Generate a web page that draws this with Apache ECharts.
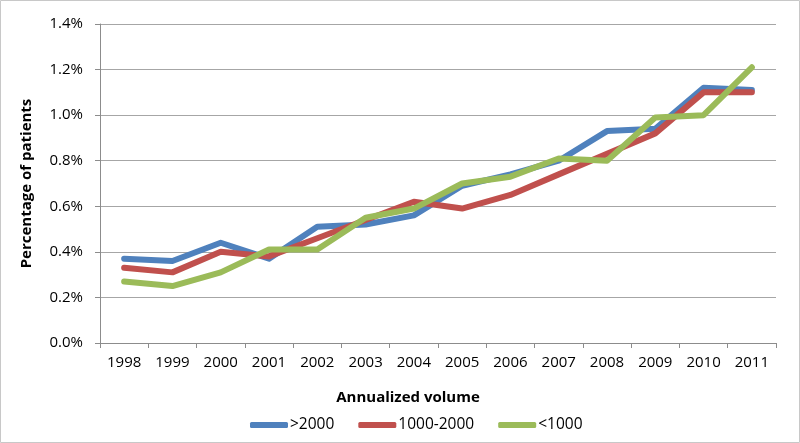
<!DOCTYPE html>
<html>
<head>
<meta charset="utf-8">
<script src="https://cdn.jsdelivr.net/npm/echarts@6/dist/echarts.min.js"></script>
<style>
html,body{margin:0;padding:0;background:#fff;}
#chart{width:800px;height:443px;}
</style>
</head>
<body>
<div id="chart"></div>
<script>
const years = ['1998','1999','2000','2001','2002','2003','2004','2005','2006','2007','2008','2009','2010','2011'];
const seriesNames = ['>2000','1000-2000','<1000'];
const over2000 = [0.37,0.36,0.44,0.37,0.51,0.52,0.56,0.69,0.74,0.80,0.93,0.94,1.12,1.11];
const mid1000to2000 = [0.33,0.31,0.40,0.38,0.46,0.54,0.62,0.59,0.65,0.74,0.83,0.92,1.10,1.10];
const under1000 = [0.27,0.25,0.31,0.41,0.41,0.55,0.59,0.70,0.73,0.81,0.80,0.99,1.00,1.21];
const yTicksMax = 1.4;
const yTickStep = 0.2;

const colors = ['#4F81BD','#C0504D','#9BBB59'];
const font = '"Open Sans", "Liberation Sans", sans-serif';

const chart = echarts.init(document.getElementById('chart'), null, {renderer:'canvas'});
const mk = (name, data, color) => ({
  name: name, type: 'line', data: data, showSymbol: false, symbol: 'none',
  lineStyle: {width: 6, color: color, cap: 'round', join: 'round'},
  itemStyle: {color: color}, animation: false
});
chart.setOption({
  animation: false,
  graphic: [{type:'rect', shape:{x:0.5,y:0.5,width:799,height:442}, style:{fill:'none', stroke:'#c8c8c8', lineWidth:1}, z:-1}],
  grid: {left: 100, right: 24, top: 24, bottom: 100},
  legend: {
    data: seriesNames, left: 245, top: 412, icon: 'roundRect', itemWidth: 38, itemHeight: 6,
    itemGap: 24, textStyle: {fontFamily: font, fontSize: 15.5, color: '#000', padding:[0,0,0,-3]}
  },
  xAxis: {
    type: 'category', data: years, boundaryGap: true,
    name: 'Annualized volume', nameLocation: 'middle', nameGap: 47,
    nameTextStyle: {fontFamily: font, fontSize: 15, fontWeight: 'bold', color: '#000', padding:[0,60,0,0]},
    axisLine: {lineStyle: {color: '#8c8c8c', width: 1}},
    axisTick: {show: true, length: 5, lineStyle: {color: '#8c8c8c'}},
    axisLabel: {fontFamily: font, fontSize: 15, color: '#000', margin: 12}
  },
  yAxis: {
    type: 'value', min: 0, max: yTicksMax, interval: yTickStep,
    name: 'Percentage of patients', nameLocation: 'middle', nameGap: 66, nameRotate: 90,
    nameTextStyle: {fontFamily: font, fontSize: 15, fontWeight: 'bold', color: '#000'},
    axisLine: {show: true, lineStyle: {color: '#8c8c8c', width: 1}},
    axisTick: {show: true, length: 5, lineStyle: {color: '#8c8c8c'}},
    splitLine: {show: true, lineStyle: {color: '#a6a6a6', width: 1}},
    axisLabel: {fontFamily: font, fontSize: 15, color: '#000', margin: 17,
      formatter: v => v.toFixed(1) + '%'}
  },
  series: [
    mk(seriesNames[0], over2000, colors[0]),
    mk(seriesNames[1], mid1000to2000, colors[1]),
    mk(seriesNames[2], under1000, colors[2])
  ]
});
</script>
</body>
</html>
